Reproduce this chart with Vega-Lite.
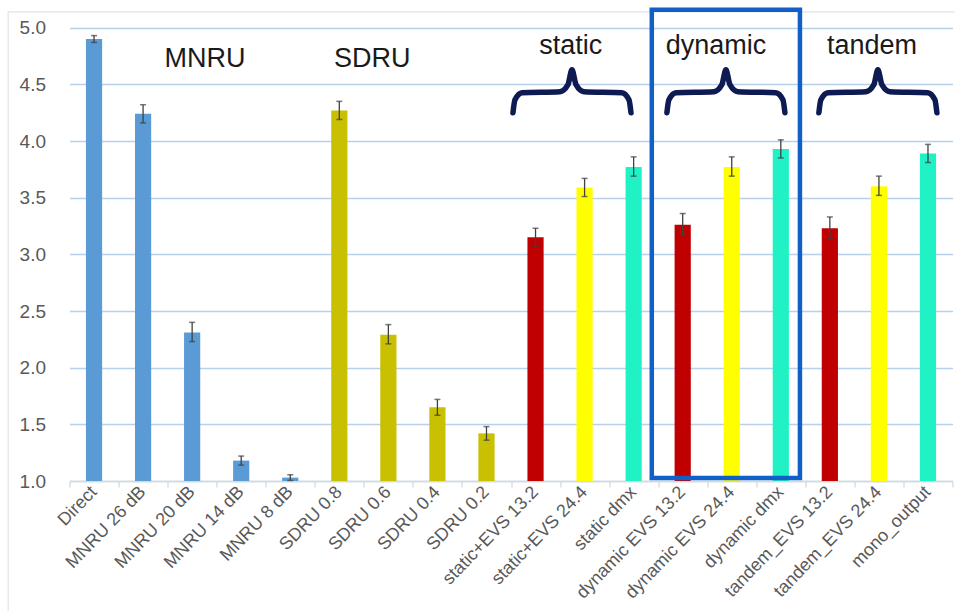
{
  "$schema": "https://vega.github.io/schema/vega-lite/v6.json",
  "width": 883,
  "height": 476,
  "autosize": {"type": "none"},
  "padding": {"left": 69.5, "top": 5, "right": 2.5, "bottom": 130},
  "background": "white",
  "config": {
    "view": {"stroke": null},
    "font": "Liberation Sans",
    "axis": {"labelFont": "Liberation Sans", "labelColor": "#595959", "labelFontSize": 17}
  },
  "datasets": {
    "bars": [
      {"name": "Direct", "grp": "ref", "mos": 4.90, "lo": 4.87, "hi": 4.93},
      {"name": "MNRU 26 dB", "grp": "ref", "mos": 4.24, "lo": 4.16, "hi": 4.32},
      {"name": "MNRU 20 dB", "grp": "ref", "mos": 2.31, "lo": 2.23, "hi": 2.40},
      {"name": "MNRU 14 dB", "grp": "ref", "mos": 1.18, "lo": 1.14, "hi": 1.22},
      {"name": "MNRU 8 dB", "grp": "ref", "mos": 1.03, "lo": 1.005, "hi": 1.055},
      {"name": "SDRU 0.8", "grp": "SDRU", "mos": 4.27, "lo": 4.19, "hi": 4.35},
      {"name": "SDRU 0.6", "grp": "SDRU", "mos": 2.29, "lo": 2.21, "hi": 2.38},
      {"name": "SDRU 0.4", "grp": "SDRU", "mos": 1.65, "lo": 1.58, "hi": 1.72},
      {"name": "SDRU 0.2", "grp": "SDRU", "mos": 1.42, "lo": 1.36, "hi": 1.48},
      {"name": "static+EVS 13.2", "grp": "EVS 13.2", "mos": 3.15, "lo": 3.07, "hi": 3.23},
      {"name": "static+EVS 24.4", "grp": "EVS 24.4", "mos": 3.59, "lo": 3.51, "hi": 3.67},
      {"name": "static dmx", "grp": "dmx", "mos": 3.77, "lo": 3.69, "hi": 3.86},
      {"name": "dynamic EVS 13.2", "grp": "EVS 13.2", "mos": 3.26, "lo": 3.17, "hi": 3.36},
      {"name": "dynamic EVS 24.4", "grp": "EVS 24.4", "mos": 3.77, "lo": 3.69, "hi": 3.86},
      {"name": "dynamic dmx", "grp": "dmx", "mos": 3.93, "lo": 3.85, "hi": 4.01},
      {"name": "tandem_EVS 13.2", "grp": "EVS 13.2", "mos": 3.23, "lo": 3.14, "hi": 3.33},
      {"name": "tandem_EVS 24.4", "grp": "EVS 24.4", "mos": 3.60, "lo": 3.52, "hi": 3.69},
      {"name": "mono_output", "grp": "dmx", "mos": 3.89, "lo": 3.81, "hi": 3.97}
    ],
    "notes": [
      {"label": "MNRU", "xq": 2.76, "yq": 4.72},
      {"label": "SDRU", "xq": 6.17, "yq": 4.72},
      {"label": "static", "xq": 10.22, "yq": 4.84},
      {"label": "dynamic", "xq": 13.18, "yq": 4.84},
      {"label": "tandem", "xq": 16.36, "yq": 4.84}
    ],
    "braces": [
      {"b": "static", "o": 0, "xq": 9.040, "yq": 4.249},
      {"b": "static", "o": 1, "xq": 9.081, "yq": 4.364},
      {"b": "static", "o": 2, "xq": 9.224, "yq": 4.426},
      {"b": "static", "o": 3, "xq": 9.998, "yq": 4.435},
      {"b": "static", "o": 4, "xq": 10.161, "yq": 4.497},
      {"b": "static", "o": 5, "xq": 10.243, "yq": 4.629},
      {"b": "static", "o": 6, "xq": 10.325, "yq": 4.497},
      {"b": "static", "o": 7, "xq": 10.488, "yq": 4.435},
      {"b": "static", "o": 8, "xq": 11.262, "yq": 4.426},
      {"b": "static", "o": 9, "xq": 11.405, "yq": 4.364},
      {"b": "static", "o": 10, "xq": 11.446, "yq": 4.249},
      {"b": "dynamic", "o": 0, "xq": 12.178, "yq": 4.249},
      {"b": "dynamic", "o": 1, "xq": 12.219, "yq": 4.364},
      {"b": "dynamic", "o": 2, "xq": 12.362, "yq": 4.426},
      {"b": "dynamic", "o": 3, "xq": 13.136, "yq": 4.435},
      {"b": "dynamic", "o": 4, "xq": 13.299, "yq": 4.497},
      {"b": "dynamic", "o": 5, "xq": 13.381, "yq": 4.629},
      {"b": "dynamic", "o": 6, "xq": 13.463, "yq": 4.497},
      {"b": "dynamic", "o": 7, "xq": 13.626, "yq": 4.435},
      {"b": "dynamic", "o": 8, "xq": 14.400, "yq": 4.426},
      {"b": "dynamic", "o": 9, "xq": 14.543, "yq": 4.364},
      {"b": "dynamic", "o": 10, "xq": 14.584, "yq": 4.249},
      {"b": "tandem", "o": 0, "xq": 15.276, "yq": 4.249},
      {"b": "tandem", "o": 1, "xq": 15.317, "yq": 4.364},
      {"b": "tandem", "o": 2, "xq": 15.460, "yq": 4.426},
      {"b": "tandem", "o": 3, "xq": 16.234, "yq": 4.435},
      {"b": "tandem", "o": 4, "xq": 16.397, "yq": 4.497},
      {"b": "tandem", "o": 5, "xq": 16.479, "yq": 4.629},
      {"b": "tandem", "o": 6, "xq": 16.561, "yq": 4.497},
      {"b": "tandem", "o": 7, "xq": 16.724, "yq": 4.435},
      {"b": "tandem", "o": 8, "xq": 17.498, "yq": 4.426},
      {"b": "tandem", "o": 9, "xq": 17.641, "yq": 4.364},
      {"b": "tandem", "o": 10, "xq": 17.682, "yq": 4.249}
    ],
    "box": [
      {"x1": 11.87, "x2": 14.89, "y1": 1.026, "y2": 5.159}
    ],
    "frame": [
      {"x1": -1.25, "x2": 18.6, "y1": -0.3, "y2": 5.14}
    ]
  },
  "layer": [
    {
      "data": {"name": "bars"},
      "encoding": {
        "x": {
          "field": "name", "type": "nominal", "sort": null,
          "scale": {"paddingInner": 0.67, "paddingOuter": 0.335},
          "axis": {
            "title": null, "labelAngle": -46, "ticks": false, "domain": true,
            "domainColor": "#d9d9d9", "domainWidth": 1.5, "labelPadding": 8,
            "labelFontSize": 18, "grid": false
          }
        }
      },
      "layer": [
        {
          "mark": {"type": "bar"},
          "encoding": {
            "y": {
              "field": "mos", "type": "quantitative",
              "scale": {"domain": [1, 5.2], "nice": false, "zero": false},
              "axis": {
                "title": null, "values": [1, 1.5, 2, 2.5, 3, 3.5, 4, 4.5, 5], "format": ".1f",
                "domain": false, "ticks": false, "tickSize": 0, "labelPadding": 24,
                "labelFontSize": 19, "gridColor": "#b8d0ea", "gridWidth": 1.3
              }
            },
            "y2": {"datum": 1},
            "color": {
              "field": "grp", "type": "nominal", "legend": null,
              "scale": {
                "domain": ["ref", "SDRU", "EVS 13.2", "EVS 24.4", "dmx"],
                "range": ["#5b9bd5", "#c8c000", "#c00000", "#ffff00", "#20f2c6"]
              }
            }
          }
        },
        {
          "mark": {"type": "rule", "color": "#404040", "strokeWidth": 1.3},
          "encoding": {
            "y": {"field": "lo", "type": "quantitative", "title": null},
            "y2": {"field": "hi"}
          }
        },
        {
          "mark": {"type": "tick", "color": "#404040", "thickness": 1.5, "size": 6, "orient": "horizontal"},
          "encoding": {"y": {"field": "lo", "type": "quantitative", "title": null}}
        },
        {
          "mark": {"type": "tick", "color": "#404040", "thickness": 1.5, "size": 6, "orient": "horizontal"},
          "encoding": {"y": {"field": "hi", "type": "quantitative", "title": null}}
        }
      ]
    },
    {
      "layer": [
        {
          "data": {"name": "frame"},
          "mark": {"type": "rect", "filled": false, "stroke": "#e4e4e4", "strokeWidth": 1.2, "clip": false},
          "encoding": {
            "x": {"field": "x1", "type": "quantitative", "scale": {"domain": [0, 18], "nice": false, "zero": false},
              "axis": {"orient": "bottom", "values": [0,1,2,3,4,5,6,7,8,9,10,11,12,13,14,15,16,17,18], "labels": false, "domain": false, "ticks": true, "tickSize": 6, "tickColor": "#d9d9d9", "tickWidth": 1.3, "grid": false, "title": null}},
            "x2": {"field": "x2"},
            "y": {"field": "y1", "type": "quantitative", "title": null},
            "y2": {"field": "y2"}
          }
        },
        {
          "data": {"name": "notes"},
          "mark": {"type": "text", "fontSize": 27, "color": "#1a1a1a", "align": "center", "baseline": "middle", "font": "Liberation Sans"},
          "encoding": {
            "x": {"field": "xq", "type": "quantitative"},
            "y": {"field": "yq", "type": "quantitative", "title": null},
            "text": {"field": "label"}
          }
        },
        {
          "data": {"name": "braces"},
          "mark": {"type": "line", "color": "#0e1a52", "strokeWidth": 5.5, "strokeCap": "round", "strokeJoin": "round", "interpolate": "monotone"},
          "encoding": {
            "x": {"field": "xq", "type": "quantitative"},
            "y": {"field": "yq", "type": "quantitative", "title": null},
            "detail": {"field": "b"},
            "order": {"field": "o"}
          }
        },
        {
          "data": {"name": "box"},
          "mark": {"type": "rect", "filled": false, "stroke": "#1060c8", "strokeWidth": 4.5},
          "encoding": {
            "x": {"field": "x1", "type": "quantitative"},
            "x2": {"field": "x2"},
            "y": {"field": "y1", "type": "quantitative", "title": null},
            "y2": {"field": "y2"}
          }
        }
      ]
    }
  ],
  "resolve": {"scale": {"x": "independent"}, "axis": {"x": "independent"}}
}
